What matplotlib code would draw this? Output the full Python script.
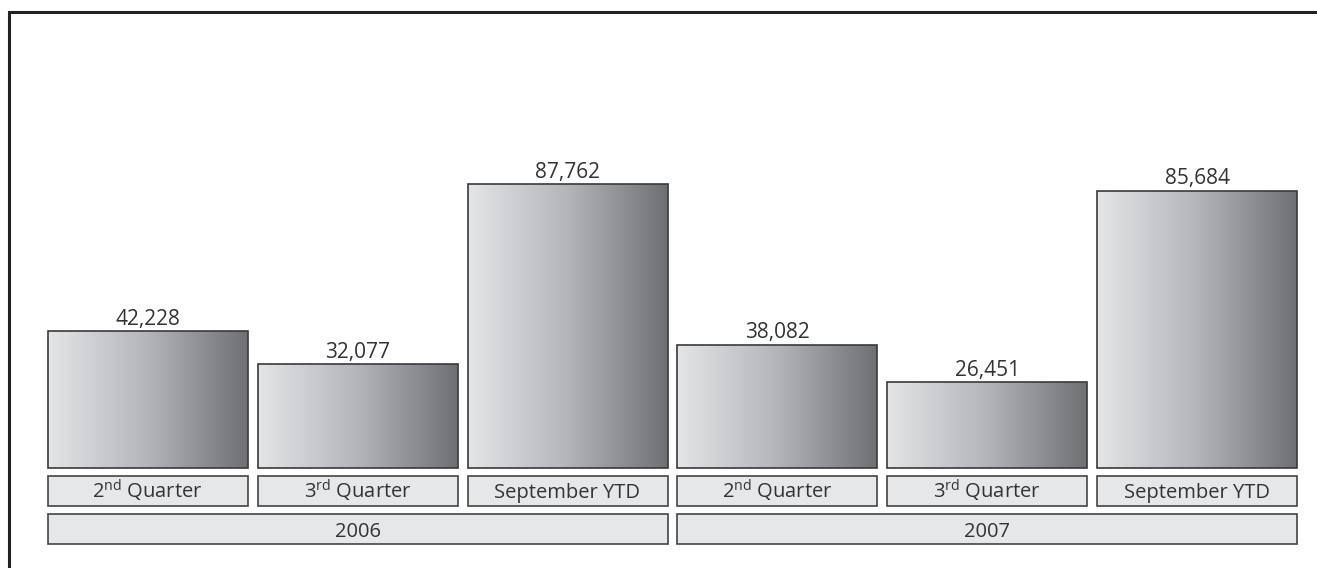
import matplotlib
matplotlib.use("Agg")
import matplotlib.pyplot as plt
import numpy as np
from matplotlib.patches import Rectangle
from matplotlib.transforms import blended_transform_factory
from matplotlib.colors import LinearSegmentedColormap

# ---- data ----
years = ["2006", "2007"]
periods = [r"2$^{\mathrm{nd}}$ Quarter", r"3$^{\mathrm{rd}}$ Quarter", "September YTD"]
values = [42228, 32077, 87762, 38082, 26451, 85684]
value_labels = ["42,228", "32,077", "87,762", "38,082", "26,451", "85,684"]

plt.rcParams['font.family'] = ['Open Sans', 'DejaVu Sans']
plt.rcParams['mathtext.fontset'] = 'custom'
plt.rcParams['mathtext.rm'] = 'Open Sans'
plt.rcParams['mathtext.it'] = 'Open Sans:italic'
plt.rcParams['mathtext.bf'] = 'Open Sans:bold'

W, H = 1317, 568
fig = plt.figure(figsize=(W / 100, H / 100), dpi=100)
ax = fig.add_axes([0, 0, 1, 1])
ax.set_axis_off()

# pixel layout (from top of image)
base_px = 467.7
pitch_px = 209.9
first_center_px = 147.7
bar_w = 200 / pitch_px
scale = 283.7 / 87762  # px per unit

ax.set_xlim(-first_center_px / pitch_px, (W - first_center_px) / pitch_px)
ax.set_ylim(-(H - base_px) / scale, base_px / scale)

x = np.arange(len(values))
text_color = "#333333"
bars = ax.bar(x, values, width=bar_w, color="none", edgecolor="#3a3a3a", linewidth=1.2, zorder=3)

cmap = LinearSegmentedColormap.from_list("g", ["#e4e5e7", "#b4b5b9", "#6f7074"])
grad = np.linspace(0, 1, 256).reshape(1, -1)
for b in bars:
    x0, y0 = b.get_x(), b.get_y()
    im = ax.imshow(grad, cmap=cmap, aspect="auto",
                   extent=[x0, x0 + b.get_width(), y0, y0 + b.get_height()],
                   zorder=2, interpolation="bilinear")
    im.set_clip_path(b)

for xi, v, lab in zip(x, values, value_labels):
    ax.annotate(lab, (xi, v), xytext=(0, 4.5), textcoords="offset points",
                ha="center", va="baseline", fontsize=15, color=text_color)

ax.set_xlim(-first_center_px / pitch_px, (W - first_center_px) / pitch_px)
ax.set_ylim(-(H - base_px) / scale, base_px / scale)

tr = blended_transform_factory(ax.transData, fig.transFigure)

def fy(px):
    return 1 - px / H

box_face = "#e6e7e8"
box_edge = "#444444"
# period boxes
cat_top, cat_bot = 476.0, 505.7
for i in range(len(values)):
    lab = periods[i % len(periods)]
    r = Rectangle((x[i] - bar_w / 2, fy(cat_bot)), bar_w, fy(cat_top) - fy(cat_bot),
                  transform=tr, facecolor=box_face, edgecolor=box_edge, linewidth=1.2, clip_on=False)
    ax.add_patch(r)
    ax.text(x[i], fy(498.3), lab, transform=tr, ha="center", va="baseline",
            fontsize=14.5, color=text_color)

# year boxes
yr_top, yr_bot = 513.8, 543.5
n = len(periods)
for j, yr in enumerate(years):
    left = x[j * n] - bar_w / 2
    right = x[j * n + n - 1] + bar_w / 2
    r = Rectangle((left, fy(yr_bot)), right - left, fy(yr_top) - fy(yr_bot),
                  transform=tr, facecolor=box_face, edgecolor=box_edge, linewidth=1.2, clip_on=False)
    ax.add_patch(r)
    ax.text((left + right) / 2, fy(536.7), yr, transform=tr, ha="center", va="baseline",
            fontsize=14.5, color=text_color)

# outer frame (extends beyond right/bottom edges)
frame = Rectangle((9.3 / W, -0.05), 1.1, 1 - 12 / H + 0.05, transform=fig.transFigure,
                  facecolor="none", edgecolor="#222222", linewidth=2.2, clip_on=False)
fig.patches.append(frame)

fig.savefig("out.png", dpi=100)
